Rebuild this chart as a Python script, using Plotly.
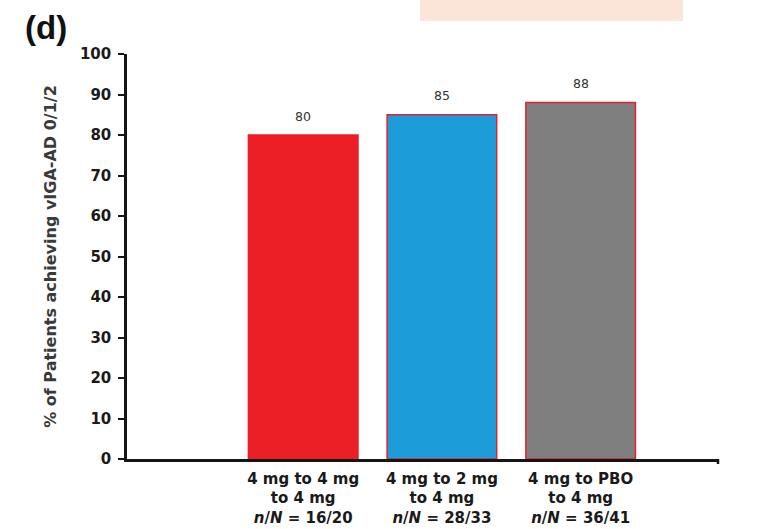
import plotly.graph_objects as go

categories = ["4 mg to 4 mg<br>to 4 mg", "4 mg to 2 mg<br>to 4 mg", "4 mg to PBO<br>to 4 mg"]
n_over_N = ["16/20", "28/33", "36/41"]
values = [80, 85, 88]
colors = ["#EC1F27", "#1C9CD8", "#7F7F7F"]
y_ticks = list(range(0, 101, 10))

FONT = "DejaVu Sans, Liberation Sans, Arial, sans-serif"
ARIAL = "Liberation Sans, Arial, sans-serif"

tick_text = [f"<b>{c}<br><i>n</i>/<i>N</i> = {r}</b>" for c, r in zip(categories, n_over_N)]
xs = [0, 1, 2]

fig = go.Figure()
fig.add_trace(go.Bar(
    x=xs, y=values, width=0.79,
    marker=dict(color=colors, line=dict(color="#E8202A", width=1.5)),
    hoverinfo="skip",
))

for x, v in zip(xs, values):
    fig.add_annotation(x=x, y=v, text=str(v), showarrow=False, yanchor="middle",
                       yshift=19, font=dict(family=FONT, size=12.5, color="#333"))

# panel label
fig.add_annotation(xref="paper", yref="paper", x=(46 - 127) / 591, y=(459 - 27) / 405,
                   xanchor="center", yanchor="middle",
                   text="<b>(d)</b>", showarrow=False,
                   font=dict(family=ARIAL, size=33, color="#111"))

# peach rectangle at top
fig.add_shape(type="rect", xref="paper", yref="paper",
              x0=(420 - 127) / 591, x1=(683 - 127) / 591,
              y0=(459 - 21) / 405, y1=(459 + 5) / 405,
              fillcolor="#FBE5D9", line=dict(width=0), layer="below")

# small hook at the right end of the x axis
fig.add_shape(type="line", xref="paper", yref="paper",
              x0=1, x1=1, y0=0, y1=-5 / 405,
              line=dict(color="#151515", width=2.5))

fig.update_layout(
    width=772, height=529,
    margin=dict(l=127, r=54, t=54, b=70),
    paper_bgcolor="white", plot_bgcolor="white",
    showlegend=False, bargap=0.2,
    font=dict(family=FONT, color="#1a1a1a"),
)
fig.update_xaxes(
    range=[-1.27, 2.99], tickmode="array", tickvals=xs, ticktext=tick_text,
    showline=True, linecolor="#151515", linewidth=2.5,
    ticks="outside", ticklen=4, tickcolor="rgba(0,0,0,0)",
    showgrid=False, automargin=False,
    zeroline=False, tickfont=dict(family=FONT, size=15, color="#1a1a1a"),
)
fig.update_yaxes(
    range=[0, 100], tickmode="array", tickvals=y_ticks,
    ticktext=[f"<b>{t}</b>" for t in y_ticks],
    showline=True, linecolor="#151515", linewidth=2.5, ticks="outside",
    ticklen=6, tickwidth=2.2, tickcolor="#151515", showgrid=False, zeroline=False,
    automargin=False, ticklabelstandoff=4,
    tickfont=dict(family=FONT, size=15, color="#1a1a1a"),
    title=dict(text="<b>% of Patients achieving vIGA-AD 0/1/2</b>", standoff=20,
               font=dict(family=FONT, size=16, color="#3a3a3a")),
)

fig.write_html("out.html")
